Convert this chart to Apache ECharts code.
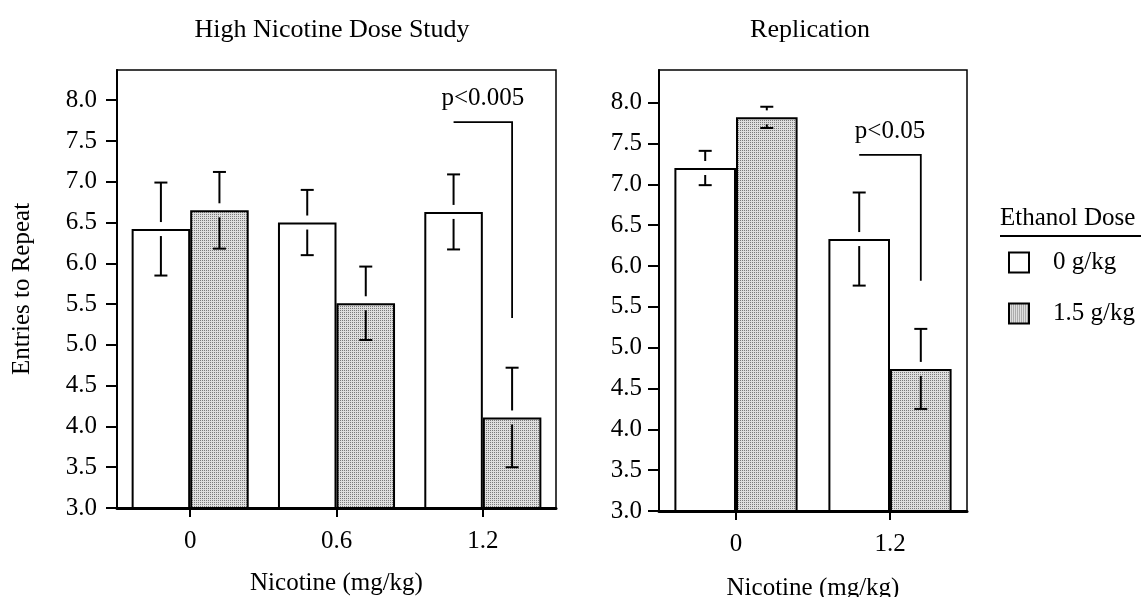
<!DOCTYPE html>
<html>
<head>
<meta charset="utf-8">
<script src="https://cdn.jsdelivr.net/npm/echarts@6/dist/echarts.min.js"></script>
<style>
html,body{margin:0;padding:0;background:#fff;}
#chart{width:1141px;height:597px;}
</style>
</head>
<body>
<div id="chart"></div>
<script>
// ---------- data ----------
var leftCategories = ['0', '0.6', '1.2'];
var leftEthanol0 = [6.42, 6.50, 6.63];
var leftEthanol0Err = [0.57, 0.40, 0.46];
var leftEthanol15 = [6.65, 5.51, 4.11];
var leftEthanol15Err = [0.47, 0.45, 0.61];

var rightCategories = ['0', '1.2'];
var rightEthanol0 = [7.20, 6.33];
var rightEthanol0Err = [0.21, 0.57];
var rightEthanol15 = [7.82, 4.74];
var rightEthanol15Err = [0.13, 0.49];

var yTickValues = [3.0, 3.5, 4.0, 4.5, 5.0, 5.5, 6.0, 6.5, 7.0, 7.5, 8.0];

// significance brackets: [category index, top value, bottom value]
var leftBracket = [2, 7.73, 5.33];
var leftBracketLabel = 'p<0.005';
var rightBracket = [1, 7.36, 5.82];
var rightBracketLabel = 'p<0.05';

var seriesNames = ['0 g/kg', '1.5 g/kg'];
var titles = ['High Nicotine Dose Study', 'Replication'];
var xAxisName = 'Nicotine (mg/kg)';
var yAxisName = 'Entries to Repeat';
var legendTitle = 'Ethanol Dose';

// ---------- styling ----------
var FONT = 'Liberation Serif';
var BAR_FRACTION = 0.4;

function makePattern() {
  var c = document.createElement('canvas');
  c.width = 2; c.height = 2;
  var ctx = c.getContext('2d');
  ctx.fillStyle = '#dedede';
  ctx.fillRect(0, 0, 2, 2);
  ctx.fillStyle = '#7a7a7a';
  ctx.fillRect(0, 0, 1, 1);
  return c;
}
var pattern = {image: makePattern(), repeat: 'repeat'};

function errData(vals, errs, pos) {
  return vals.map(function (v, i) { return [i, v, errs[i], pos]; });
}

function errRender(params, api) {
  var ci = api.value(0), v = api.value(1), e = api.value(2), pos = api.value(3);
  var band = api.size([1, 0])[0];
  var bw = band * BAR_FRACTION;
  var p = api.coord([ci, v]);
  var cx = p[0] + (pos - 0.5) * bw;
  var yv = p[1];
  var yt = api.coord([ci, v + e])[1];
  var yb = api.coord([ci, v - e])[1];
  var gap = 7, cap = 6.5;
  var st = {stroke: '#000', lineWidth: 2};
  var ch = [
    {type: 'line', shape: {x1: cx - cap, y1: yt, x2: cx + cap, y2: yt}, style: st},
    {type: 'line', shape: {x1: cx - cap, y1: yb, x2: cx + cap, y2: yb}, style: st}
  ];
  if (yv - gap > yt) ch.push({type: 'line', shape: {x1: cx, y1: yt, x2: cx, y2: yv - gap}, style: st});
  if (yb > yv + gap) ch.push({type: 'line', shape: {x1: cx, y1: yv + gap, x2: cx, y2: yb}, style: st});
  return {type: 'group', children: ch};
}

function bracketRender(label) {
  return function (params, api) {
    var ci = api.value(0), top = api.value(1), bot = api.value(2);
    var band = api.size([1, 0])[0];
    var bw = band * BAR_FRACTION;
    var c = api.coord([ci, top]);
    var x1 = c[0] - bw / 2, x2 = c[0] + bw / 2;
    var yt = c[1];
    var yb = api.coord([ci, bot])[1];
    return {type: 'group', children: [
      {type: 'polyline', shape: {points: [[x1, yt], [x2, yt], [x2, yb]]},
       style: {stroke: '#000', lineWidth: 1.8, fill: null}},
      {type: 'text', x: (x1 + x2) / 2, y: yt - 11,
       style: {text: label, fill: '#000', font: '25px "' + FONT + '"', align: 'center', verticalAlign: 'bottom'}}
    ]};
  };
}

function yAxisCfg(gridIndex, max, margin, withName) {
  var cfg = {
    type: 'value', gridIndex: gridIndex, min: 3, max: max,
    splitLine: {show: false},
    axisLine: {show: true, lineStyle: {color: '#000', width: 2}},
    axisTick: {show: true, length: 11, lineStyle: {color: '#000', width: 2}, customValues: yTickValues},
    axisLabel: {customValues: yTickValues, margin: margin, color: '#000', fontFamily: FONT, fontSize: 25,
      formatter: function (v) { return v.toFixed(1); }}
  };
  if (withName) {
    cfg.name = yAxisName;
    cfg.nameLocation = 'middle';
    cfg.nameGap = 82;
    cfg.nameTextStyle = {color: '#000', fontFamily: FONT, fontSize: 25};
  }
  return cfg;
}

function xAxisCfg(gridIndex, cats, nameGap) {
  return {
    type: 'category', gridIndex: gridIndex, data: cats,
    name: xAxisName, nameLocation: 'middle', nameGap: nameGap,
    nameTextStyle: {color: '#000', fontFamily: FONT, fontSize: 25},
    axisLine: {show: true, lineStyle: {color: '#000', width: 3}},
    axisTick: {show: true, alignWithLabel: true, length: 9, lineStyle: {color: '#000', width: 2}},
    axisLabel: {color: '#000', fontFamily: FONT, fontSize: 25, margin: 21}
  };
}

var barStyleWhite = {color: '#ffffff', borderColor: '#000', borderWidth: 2};
var barStyleGray = {color: pattern, borderColor: '#000', borderWidth: 2};

var chart = echarts.init(document.getElementById('chart'), null, {renderer: 'canvas'});
chart.setOption({
  animation: false,
  backgroundColor: '#fff',
  textStyle: {fontFamily: FONT},
  title: [
    {text: titles[0], left: 327, top: 12, textAlign: 'center',
     textStyle: {color: '#000', fontFamily: FONT, fontSize: 26, fontWeight: 'normal'}},
    {text: titles[1], left: 805, top: 12, textAlign: 'center',
     textStyle: {color: '#000', fontFamily: FONT, fontSize: 26, fontWeight: 'normal'}}
  ],
  legend: {
    data: seriesNames, orient: 'vertical', left: 1003, top: 245,
    itemWidth: 20, itemHeight: 20, itemGap: 26, icon: 'rect',
    textStyle: {color: '#000', fontFamily: FONT, fontSize: 25, padding: [0, 0, 0, 19]},
    selectedMode: false
  },
  graphic: [
    {type: 'text', left: 1000, top: 206,
     style: {text: legendTitle, fill: '#000', font: '25px "' + FONT + '"'}},
    {type: 'line', shape: {x1: 1000, y1: 236, x2: 1141, y2: 236}, style: {stroke: '#000', lineWidth: 2}}
  ],
  grid: [
    {left: 117, top: 70, width: 439, height: 438, show: true, borderColor: '#000', borderWidth: 1.5,
     containLabel: false, outerBoundsMode: 'none'},
    {left: 659, top: 70, width: 308, height: 441, show: true, borderColor: '#000', borderWidth: 1.5,
     containLabel: false, outerBoundsMode: 'none'}
  ],
  xAxis: [xAxisCfg(0, leftCategories, 63), xAxisCfg(1, rightCategories, 65)],
  yAxis: [yAxisCfg(0, 8.37, 20, true), yAxisCfg(1, 8.40, 17, false)],
  series: [
    {name: seriesNames[0], type: 'bar', xAxisIndex: 0, yAxisIndex: 0, data: leftEthanol0,
     barWidth: '40%', barGap: '0%', itemStyle: barStyleWhite},
    {name: seriesNames[1], type: 'bar', xAxisIndex: 0, yAxisIndex: 0, data: leftEthanol15,
     barWidth: '40%', barGap: '0%', itemStyle: barStyleGray},
    {name: seriesNames[0], type: 'bar', xAxisIndex: 1, yAxisIndex: 1, data: rightEthanol0,
     barWidth: '40%', barGap: '0%', itemStyle: barStyleWhite},
    {name: seriesNames[1], type: 'bar', xAxisIndex: 1, yAxisIndex: 1, data: rightEthanol15,
     barWidth: '40%', barGap: '0%', itemStyle: barStyleGray},
    {type: 'custom', xAxisIndex: 0, yAxisIndex: 0, renderItem: errRender, z: 5,
     data: errData(leftEthanol0, leftEthanol0Err, 0).concat(errData(leftEthanol15, leftEthanol15Err, 1))},
    {type: 'custom', xAxisIndex: 1, yAxisIndex: 1, renderItem: errRender, z: 5,
     data: errData(rightEthanol0, rightEthanol0Err, 0).concat(errData(rightEthanol15, rightEthanol15Err, 1))},
    {type: 'custom', xAxisIndex: 0, yAxisIndex: 0, renderItem: bracketRender(leftBracketLabel), z: 5,
     data: [leftBracket]},
    {type: 'custom', xAxisIndex: 1, yAxisIndex: 1, renderItem: bracketRender(rightBracketLabel), z: 5,
     data: [rightBracket]}
  ]
});
</script>
</body>
</html>
